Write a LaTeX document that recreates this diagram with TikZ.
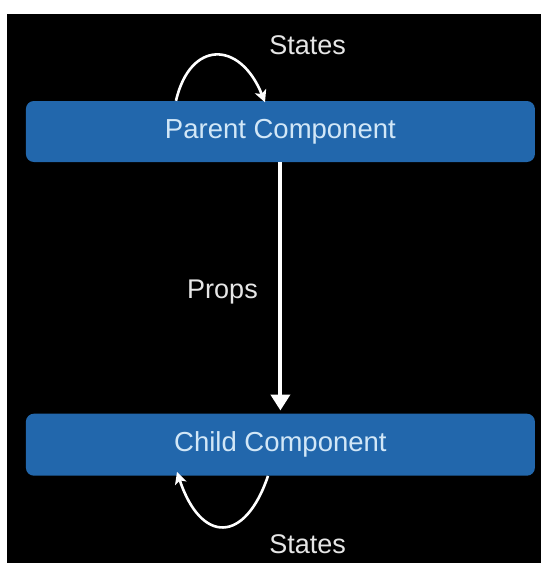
\documentclass[tikz,border=0pt]{standalone}
\usepackage{fontspec}
\setmainfont{Liberation Sans}
\usetikzlibrary{arrows.meta}

\definecolor{boxblue}{HTML}{2267AC}
\definecolor{boxtext}{HTML}{D2E7F7}
\definecolor{labeltext}{HTML}{E6E6E6}

\tikzset{
  compbox/.style={fill=boxblue, rounded corners=8pt, minimum width=509pt,
    minimum height=61pt, text=boxtext, font=\fontsize{27.5}{32}\selectfont,
    inner sep=0pt},
  flowlabel/.style={text=labeltext, font=\fontsize{27}{32}\selectfont,
    anchor=base, inner sep=0pt},
  propsarrow/.style={draw=white, line width=4pt,
    -{Triangle[length=16pt,width=19pt]}},
  looparrow/.style={draw=white, line width=2.6pt,
    -{Stealth[length=12pt,width=12pt,inset=3pt]}}
}

\begin{document}
\begin{tikzpicture}[x=1pt,y=-1pt]
  % page and dark backdrop
  \useasboundingbox (0,0) rectangle (541,563);
  \fill[white] (0,0) rectangle (541,563);
  \fill[black] (7,14) rectangle (541,563);

  % components
  \node[compbox] (parent) at (280.4,131.5) {Parent Component};
  \node[compbox, minimum height=62pt] (child) at (280.4,444.7) {Child Component};

  % props flow from parent to child
  \draw[propsarrow, shorten >=3pt] (parent.south) -- (child.north);
  \node[flowlabel] (props) at (222.5,298.3) {Props};

  % state loop on the parent
  \coordinate (pOut) at ([xshift=-104.4pt]parent.north);
  \coordinate (pIn)  at ([xshift=-15.4pt,yshift=-1.5pt]parent.north);
  \draw[looparrow] (pOut) .. controls (190,40) and (240,40) .. (pIn);
  \node[flowlabel] (statesTop) at (307.6,54.6) {States};

  % state loop on the child
  \coordinate (cOut) at ([xshift=-12.4pt]child.south);
  \coordinate (cIn)  at ([xshift=-103.4pt,yshift=4pt]child.south);
  \draw[looparrow] (cOut) .. controls (245,544) and (201,544) .. (cIn);
  \node[flowlabel] (statesBottom) at (307.6,553) {States};
\end{tikzpicture}
\end{document}
